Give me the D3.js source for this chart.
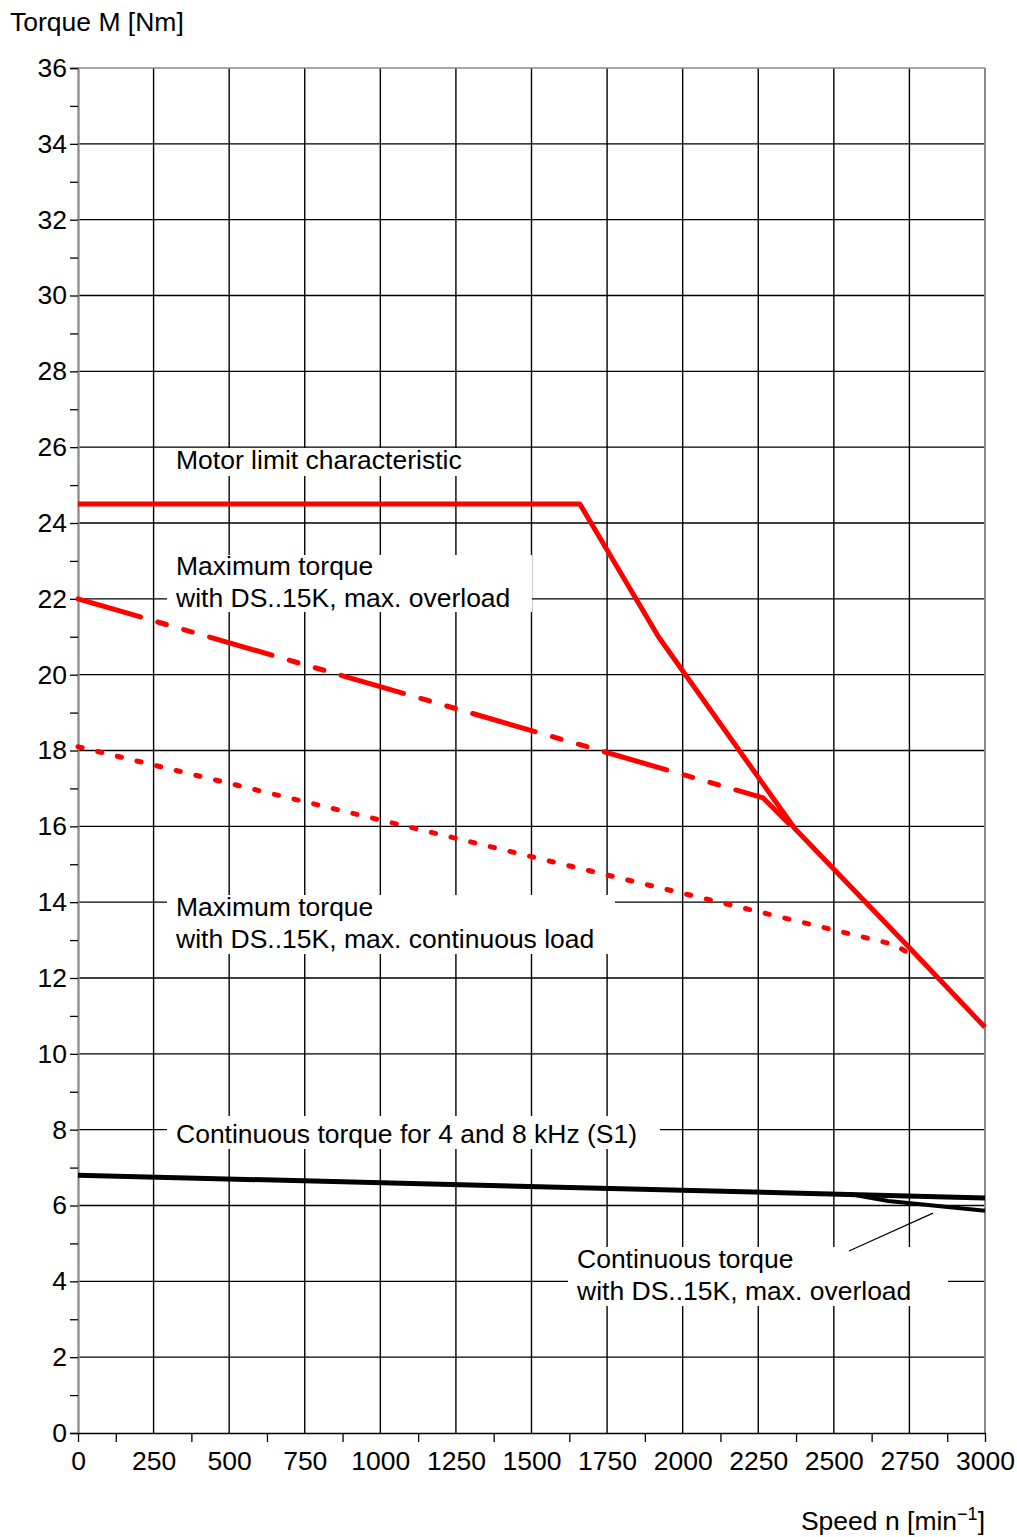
<!DOCTYPE html>
<html><head><meta charset="utf-8">
<script src="https://cdn.jsdelivr.net/npm/d3@7"></script>
<style>
body{margin:0;background:#fff;}
svg{display:block;font-family:"Liberation Sans",Arial,Helvetica,sans-serif;}
</style></head>
<body>
<svg id="chart" width="1017" height="1537"></svg>
<script>
// ---- data ----
const xMajorTicks = [0,250,500,750,1000,1250,1500,1750,2000,2250,2500,2750,3000];
const xMinorTicks = [0,125,375,625,875,1125,1375,1625,1875,2125,2375,2625,2875,3000];
const yMajorTicks = [0,2,4,6,8,10,12,14,16,18,20,22,24,26,28,30,32,34,36];
const yMinorTicks = [1,3,5,7,9,11,13,15,17,19,21,23,25,27,29,31,33,35];

const motorLimit      = [[0,24.5],[1660,24.5],[1920,21.0],[2370,15.95],[2750,12.8],[3000,10.7]];
const maxTorqueOverload = [[0,22.0],[2266,16.75],[2360,16.0]];
const maxTorqueContinuous = [[0,18.1],[2700,12.88],[2780,12.5]];
const contTorqueS1    = [[0,6.8],[3000,6.2]];
const contTorqueDS    = [[2560,6.29],[2680,6.12],[3000,5.86]];
const leaderLine      = [[2550,4.8],[2828,5.8]];

const labels = [
  {lines:["Motor limit characteristic"], x:176, y:469, box:[165,448,472,476]},
  {lines:["Maximum torque","with DS..15K, max. overload"], x:176, y:575, box:[167,555,532,612]},
  {lines:["Maximum torque","with DS..15K, max. continuous load"], x:176, y:916, box:[167,895,615,954]},
  {lines:["Continuous torque for 4 and 8 kHz (S1)"], x:176, y:1143, box:[167,1116,660,1149]},
  {lines:["Continuous torque","with DS..15K, max. overload"], x:577, y:1268, box:[568,1247,948,1306]}
];

// ---- layout ----
const svg = d3.select("#chart");
const x = d3.scaleLinear().domain([0,3000]).range([78,985]);
const y = d3.scaleLinear().domain([0,36]).range([1433,68]);
const FS = 26.5;

// gridlines
const grid = svg.append("g");
grid.selectAll("line.h").data(yMajorTicks.filter(d=>d>0&&d<36)).enter().append("line")
  .attr("x1",x(0)).attr("x2",x(3000)).attr("y1",d=>y(d)).attr("y2",d=>y(d))
  .attr("stroke","#000").attr("stroke-width",1.4);
grid.selectAll("line.v").data(xMajorTicks.filter(d=>d>0&&d<3000)).enter().append("line")
  .attr("y1",y(0)).attr("y2",y(36)).attr("x1",d=>x(d)).attr("x2",d=>x(d))
  .attr("stroke","#000").attr("stroke-width",1.4);
// border top/right gray
svg.append("line").attr("x1",x(0)).attr("x2",x(3000)).attr("y1",y(36)).attr("y2",y(36)).attr("stroke","#888").attr("stroke-width",1.6);
svg.append("line").attr("x1",x(3000)).attr("x2",x(3000)).attr("y1",y(0)).attr("y2",y(36)).attr("stroke","#888").attr("stroke-width",2);

// label boxes
labels.forEach(l=>{
  svg.append("rect").attr("x",l.box[0]).attr("y",l.box[1])
    .attr("width",l.box[2]-l.box[0]).attr("height",l.box[3]-l.box[1]).attr("fill","#fff");
});

// axes
const yAxis = svg.append("g").attr("transform",`translate(${x(0)},0)`)
  .call(d3.axisLeft(y).tickValues(yMajorTicks).tickSize(8).tickPadding(3).tickFormat(d3.format("d")));
svg.append("g").attr("transform",`translate(${x(0)},0)`)
  .call(d3.axisLeft(y).tickValues(yMinorTicks).tickSize(8).tickFormat(""))
  .call(g=>g.select(".domain").remove());
yAxis.select(".domain").attr("stroke","#888").attr("stroke-width",2.2);
const xAxis = svg.append("g").attr("transform",`translate(0,${y(0)})`)
  .call(d3.axisBottom(x).tickValues(xMajorTicks).tickSize(0).tickPadding(18).tickFormat(d3.format("d")));
svg.append("g").attr("transform",`translate(0,${y(0)})`)
  .call(d3.axisBottom(x).tickValues(xMinorTicks).tickSize(9).tickFormat(""))
  .call(g=>g.select(".domain").remove());
xAxis.select(".domain").attr("stroke","#000").attr("stroke-width",1.6);
svg.selectAll(".tick line").attr("stroke","#000").attr("stroke-width",1.3);
svg.selectAll(".tick text").attr("font-size",FS).attr("fill","#000")
  .attr("font-family","'Liberation Sans',Arial,sans-serif");

// axis titles
svg.append("text").attr("x",10).attr("y",31).attr("font-size",FS).text("Torque M [Nm]");
const xt = svg.append("text").attr("x",985).attr("y",1530).attr("font-size",FS).attr("text-anchor","end");
xt.append("tspan").text("Speed n [min");
xt.append("tspan").attr("font-size",18).attr("dy",-10).text("\u22121");
xt.append("tspan").attr("dy",10).text("]");

// label texts
labels.forEach(l=>{
  l.lines.forEach((t,i)=>{
    svg.append("text").attr("x",l.x).attr("y",l.y+i*32).attr("font-size",FS).attr("fill","#000").text(t);
  });
});

// curves
const line = d3.line().x(d=>x(d[0])).y(d=>y(d[1]));
svg.append("path").datum(motorLimit).attr("d",line).attr("fill","none")
  .attr("stroke","#ff0000").attr("stroke-width",5).attr("stroke-linejoin","round");
svg.append("path").datum(maxTorqueOverload).attr("d",line).attr("fill","none")
  .attr("stroke","#ff0000").attr("stroke-width",5).attr("stroke-linecap","round").attr("stroke-linejoin","round")
  .attr("stroke-dasharray","65,18,9,18,9,18");
svg.append("path").datum(maxTorqueContinuous).attr("d",line).attr("fill","none")
  .attr("stroke","#ff0000").attr("stroke-width",5).attr("stroke-linecap","round")
  .attr("stroke-dasharray","4.3,15.9");
svg.append("path").datum(contTorqueS1).attr("d",line).attr("fill","none")
  .attr("stroke","#000").attr("stroke-width",5);
svg.append("path").datum(contTorqueDS).attr("d",line).attr("fill","none")
  .attr("stroke","#000").attr("stroke-width",4);
svg.append("path").datum(leaderLine).attr("d",line).attr("fill","none")
  .attr("stroke","#000").attr("stroke-width",1.2);
</script>
</body></html>
